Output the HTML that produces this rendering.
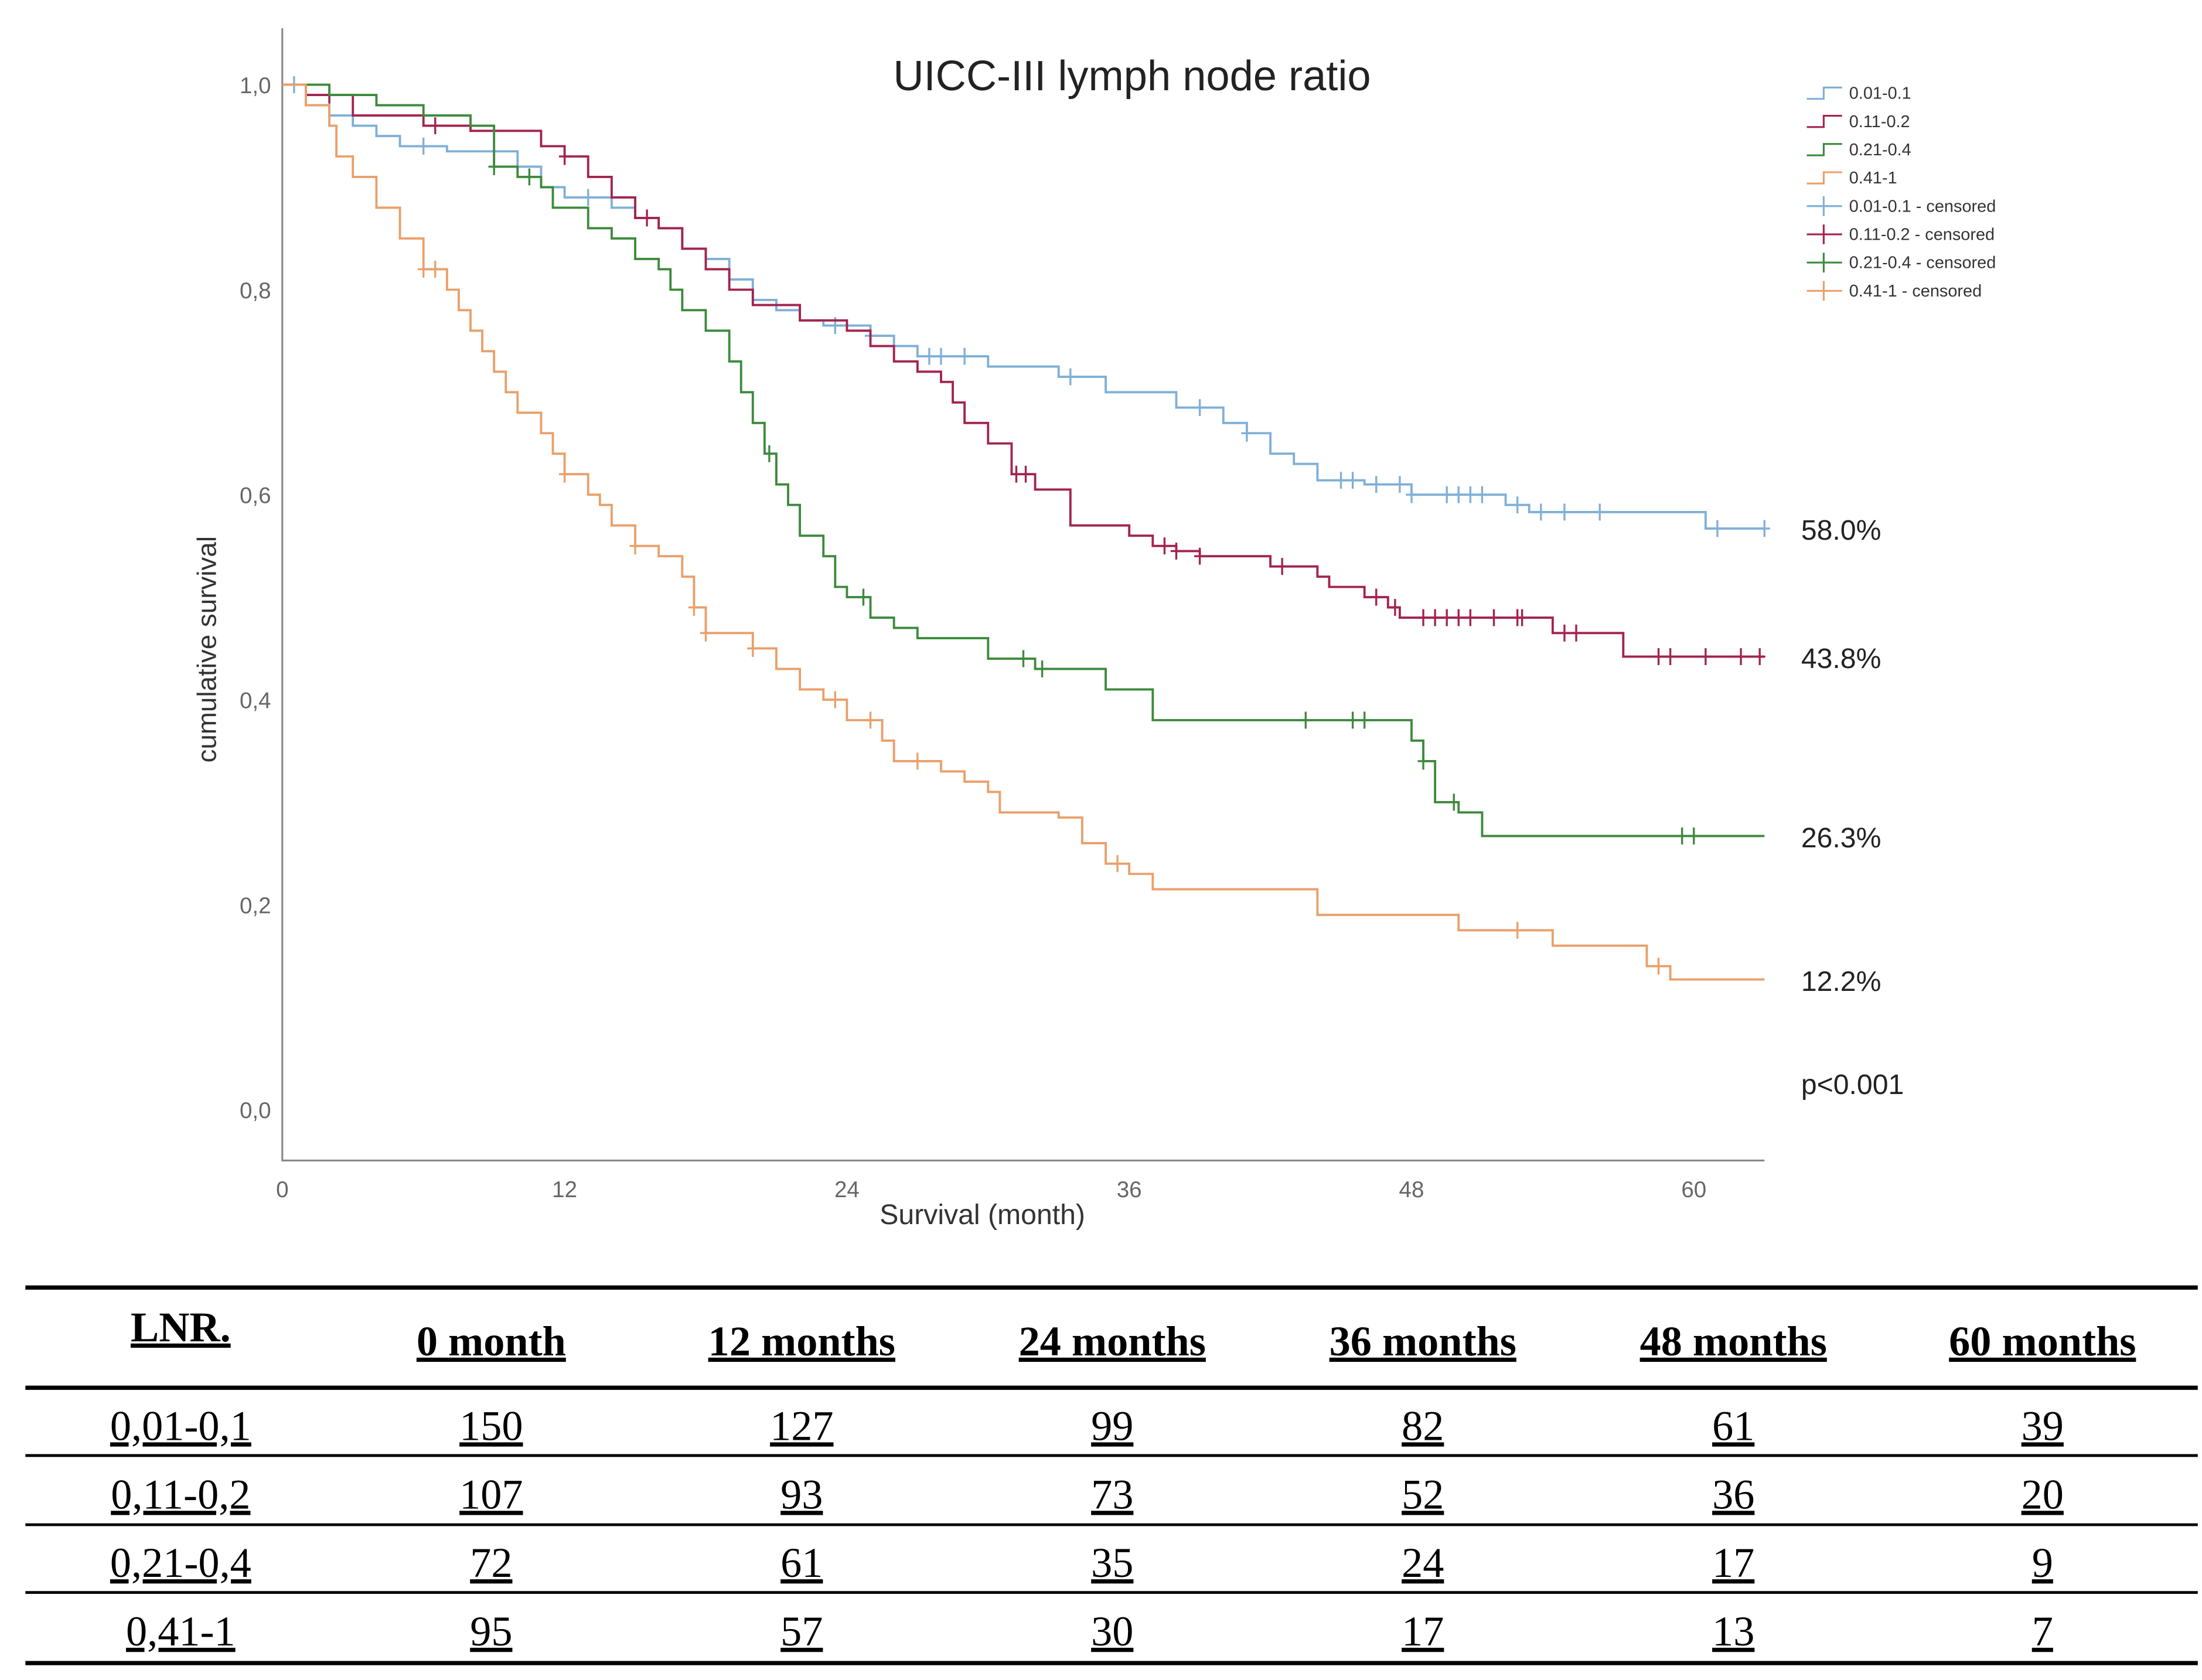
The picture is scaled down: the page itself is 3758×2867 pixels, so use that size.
<!DOCTYPE html>
<html><head><meta charset="utf-8"><style>
html,body{margin:0;padding:0;background:#fff;}
svg{display:block;}
</style></head><body>
<svg id="chart" width="3758" height="2867" viewBox="0 0 1560 1190" preserveAspectRatio="none" xmlns="http://www.w3.org/2000/svg">
<rect width="1560" height="1190" fill="#fff"/>
<g id="plot"></g>
<g id="table"></g>
</svg>
<script>
const xTicks=[0,12,24,36,48,60];
const yTicks=[0,0.2,0.4,0.6,0.8,1.0];
const yTickLabels=["0,0","0,2","0,4","0,6","0,8","1,0"];
const seriesNames=["0.01-0.1","0.11-0.2","0.21-0.4","0.41-1"];
const seriesColors=["#7fb0d8","#a3234f","#3d8a3d","#e9a06b"];
const blueT=[0,1,2,3,4,5,7,10,11,12,14,15,16,17,18,19,20,21,22,23,25,26,27,30,33,35,38,40,41,42,43,44,46,48,52,53,60.5];
const blueS=[1,0.99,0.97,0.96,0.95,0.94,0.935,0.92,0.90,0.89,0.88,0.87,0.86,0.84,0.83,0.81,0.79,0.78,0.77,0.765,0.755,0.745,0.735,0.725,0.715,0.70,0.685,0.67,0.66,0.64,0.63,0.614,0.61,0.60,0.59,0.583,0.567];
const redT=[0,1,3,6,8,11,12,13,14,15,16,17,18,19,20,22,24,25,26,27,28,28.5,29,30,31,32,33.5,36,37,38,39,42,44,44.5,46,47,47.5,54,57];
const redS=[1,0.99,0.97,0.96,0.955,0.94,0.93,0.91,0.89,0.87,0.86,0.84,0.82,0.80,0.785,0.77,0.76,0.745,0.73,0.72,0.71,0.69,0.67,0.65,0.62,0.605,0.57,0.56,0.55,0.545,0.54,0.53,0.52,0.51,0.50,0.49,0.48,0.465,0.442];
const greenT=[0,2,4,6,8,9,10,11,11.5,13,14,15,16,16.5,17,18,19,19.5,20,20.5,21,21.5,22,23,23.5,24,25,26,27,30,32,35,37,48,48.5,49,50,51];
const greenS=[1,0.99,0.98,0.97,0.96,0.92,0.91,0.90,0.88,0.86,0.85,0.83,0.82,0.80,0.78,0.76,0.73,0.70,0.67,0.64,0.61,0.59,0.56,0.54,0.51,0.50,0.48,0.47,0.46,0.44,0.43,0.41,0.38,0.36,0.34,0.30,0.29,0.267];
const orangeT=[0,1,2,2.3,3,4,5,6,7,7.5,8,8.5,9,9.5,10,11,11.5,12,13,13.5,14,15,16,17,17.5,18,20,21,22,23,24,25.5,26,28,29,30,30.5,33,34,35,36,37,44,50,54,58,59];
const orangeS=[1,0.98,0.96,0.93,0.91,0.88,0.85,0.82,0.80,0.78,0.76,0.74,0.72,0.70,0.68,0.66,0.64,0.62,0.60,0.59,0.57,0.55,0.54,0.52,0.49,0.465,0.45,0.43,0.41,0.40,0.38,0.36,0.34,0.33,0.32,0.31,0.29,0.285,0.26,0.24,0.23,0.215,0.19,0.175,0.16,0.14,0.127];
const blueC=[0.5,6,13,23.5,25,27.5,28,29,33.5,39,41,45,45.5,46.5,47.5,48,49.5,50,50.5,51,52.5,53.5,54.5,56,61,63];
const redC=[2,6.5,12,15.5,31.2,31.6,37.5,38,39,42.5,46.5,47.3,48.5,49,49.5,50,50.5,51.5,52.5,52.7,54.5,55,58.5,59,60.5,62,62.8];
const greenC=[9,10.5,20.7,24.7,31.5,32.3,43.5,45.5,46,48.5,49.8,59.5,60];
const orangeC=[6,6.5,12,15,17.5,18,20,23.5,25,27,35.5,52.5,58.5];
const allT=[blueT,redT,greenT,orangeT], allS=[blueS,redS,greenS,orangeS], allC=[blueC,redC,greenC,orangeC];
const endLabels=["58.0%","43.8%","26.3%","12.2%"];
const tableHead=["LNR.","0 month","12 months","24 months","36 months","48 months","60 months"];
const tableRows=[["0,01-0,1","150","127","99","82","61","39"],["0,11-0,2","107","93","73","52","36","20"],["0,21-0,4","72","61","35","24","17","9"],["0,41-1","95","57","30","17","13","7"]];

const NS="http://www.w3.org/2000/svg";
const X0=200,XEND=1250,PXM=(1200-200)/60,Y0=786,PY=726,TMAX=63;
const xs=t=>X0+t*PXM, ys=v=>Y0-v*PY;
const plot=document.getElementById('plot'), table=document.getElementById('table');
function mk(tag,attrs,parent,text){const e=document.createElementNS(NS,tag);for(const k in attrs)e.setAttribute(k,attrs[k]);if(text!==undefined)e.textContent=text;parent.appendChild(e);return e;}
const SANS='"Liberation Sans", sans-serif', SERIF='"Liberation Serif", serif';

let ax=mk('path',{d:`M${X0} 20 V822 H${XEND}`,stroke:'#888',fill:'none','stroke-width':1.3},plot);


yTicks.forEach((v,i)=>{let t=mk('text',{x:192,y:ys(v)+6,'text-anchor':'end','font-family':SANS,'font-size':16,fill:'#666'},plot,yTickLabels[i]);

});
xTicks.forEach(v=>{let t=mk('text',{x:xs(v),y:848,'text-anchor':'middle','font-family':SANS,'font-size':16,fill:'#666'},plot,String(v));

});
let tt=mk('text',{x:802,y:64,'text-anchor':'middle','font-family':SANS,'font-size':30,fill:'#222'},plot,'UICC-III lymph node ratio');


let xt=mk('text',{x:696,y:867,'text-anchor':'middle','font-family':SANS,'font-size':20,fill:'#333'},plot,'Survival (month)');


let yt=mk('text',{x:0,y:0,transform:'translate(153,460) rotate(-90)','text-anchor':'middle','font-family':SANS,'font-size':19,fill:'#333'},plot,'cumulative survival');



allT.forEach((T,si)=>{
  const S=allS[si];let d=`M${xs(T[0])} ${ys(S[0])}`;
  for(let i=1;i<T.length;i++){d+=` H${xs(T[i])} V${ys(S[i])}`;}
  d+=` H${xs(TMAX)}`;
  let p=mk('path',{d,stroke:seriesColors[si],fill:'none','stroke-width':1.6},plot);
  
  
  allC[si].forEach(c=>{let v=S[0];for(let i=0;i<T.length;i++)if(T[i]<=c)v=S[i];
    let m=mk('path',{d:`M${xs(c)} ${ys(v)-6} V${ys(v)+6} M${xs(c)-4} ${ys(v)} H${xs(c)+4}`,stroke:seriesColors[si],'stroke-width':1.4},plot);
    
    });
  let el=mk('text',{x:1276,y:ys(S[S.length-1])+8,'font-family':SANS,'font-size':20,fill:'#222'},plot,endLabels[si]);
  
  
});
let pv=mk('text',{x:1276,y:775,'font-family':SANS,'font-size':20,fill:'#222'},plot,'p<0.001');



const lg=mk('g',{},plot);


for(let i=0;i<8;i++){const y=66+i*20,c=seriesColors[i%4];
  if(i<4) mk('path',{d:`M1280 ${y+4} H1292 V${y-4} H1305`,stroke:c,fill:'none','stroke-width':1.3},lg);
  else mk('path',{d:`M1280 ${y} H1305 M1292 ${y-7} V${y+7}`,stroke:c,'stroke-width':1.3},lg);
  let t=mk('text',{x:1310,y:y+4,'font-family':SANS,'font-size':12,fill:'#333'},lg,seriesNames[i%4]+(i>=4?' - censored':''));
  
  }

const colX=[128,348,568,788,1008,1228,1447];
[[912,3],[983,3],[1031,2],[1080,2],[1128,2],[1178,3]].forEach(([y,w])=>{let l=mk('line',{x1:18,x2:1557,y1:y,y2:y,stroke:'#000','stroke-width':w},table);

});
tableHead.forEach((h,i)=>{let t=mk('text',{x:colX[i],y:i==0?950:960,'text-anchor':'middle','font-family':SERIF,'font-size':30,'font-weight':'bold','text-decoration':'underline',fill:'#000'},table,h);

});
tableRows.forEach((r,ri)=>r.forEach((c,i)=>{let t=mk('text',{x:colX[i],y:1020+ri*48.5,'text-anchor':'middle','font-family':SERIF,'font-size':30,'text-decoration':'underline',fill:'#000'},table,c);

}));
</script>
</body></html>
